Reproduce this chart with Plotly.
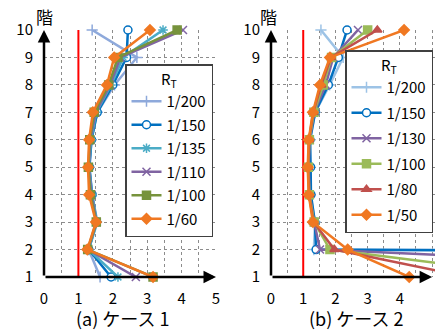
import plotly.graph_objects as go

floors = [1, 2, 3, 4, 5, 6, 7, 8, 9, 10]

# Case 1
names1 = ["1/200", "1/150", "1/135", "1/110", "1/100", "1/60"]
c1_200 = [1.63, 1.30, 1.52, 1.38, 1.32, 1.38, 1.55, 2.05, 2.70, 1.40]
c1_150 = [1.95, 1.30, 1.53, 1.40, 1.32, 1.38, 1.55, 2.00, 2.40, 2.44]
c1_135 = [2.15, 1.30, 1.55, 1.40, 1.31, 1.37, 1.52, 1.95, 2.30, 3.46]
c1_110 = [2.67, 1.28, 1.53, 1.38, 1.30, 1.35, 1.50, 1.92, 2.22, 4.04]
c1_100 = [3.17, 1.27, 1.52, 1.35, 1.29, 1.33, 1.46, 1.88, 2.15, 3.87]
c1_60 = [3.17, 1.26, 1.51, 1.31, 1.28, 1.31, 1.42, 1.83, 2.04, 3.08]

# Case 2
names2 = ["1/200", "1/150", "1/130", "1/100", "1/80", "1/50"]
c2_200 = [400.0, 1.33, 1.37, 1.22, 1.20, 1.22, 1.37, 1.82, 2.24, 1.55]
c2_150 = [150.0, 1.40, 1.36, 1.24, 1.23, 1.21, 1.37, 1.78, 2.09, 2.36]
c2_130 = [20.4, 1.52, 1.34, 1.20, 1.17, 1.20, 1.34, 1.70, 1.93, 2.70]
c2_100 = [8.6, 1.83, 1.34, 1.19, 1.16, 1.19, 1.33, 1.62, 1.88, 3.00]
c2_80 = [6.1, 1.97, 1.32, 1.18, 1.15, 1.18, 1.31, 1.56, 1.86, 3.30]
c2_50 = [4.29, 2.38, 1.30, 1.17, 1.14, 1.17, 1.30, 1.52, 1.83, 4.13]

x_ticks = [0, 1, 2, 3, 4, 5]
y_ticks = floors
limit_x = 1
y_title = "階"
caption1 = "(a) ケース 1"
caption2 = "(b) ケース 2"

FONT = "Noto Sans CJK JP"
LFONT = "Liberation Sans Narrow, Noto Sans CJK JP"
W, H = 435, 331

styles1 = [
    dict(color="#8EA9DB", symbol="cross-thin-open", fill="#8EA9DB"),
    dict(color="#0070C0", symbol="circle", fill="white"),
    dict(color="#4BACC6", symbol="asterisk-open", fill="#4BACC6"),
    dict(color="#8064A2", symbol="x-thin-open", fill="#8064A2"),
    dict(color="#77933C", symbol="square", fill="#77933C"),
    dict(color="#F07822", symbol="diamond", fill="#F07822"),
]
styles2 = [
    dict(color="#9DC3E6", symbol="cross-thin-open", fill="#9DC3E6"),
    dict(color="#0070C0", symbol="circle", fill="white"),
    dict(color="#8064A2", symbol="x-thin-open", fill="#8064A2"),
    dict(color="#9BBB59", symbol="square", fill="#9BBB59"),
    dict(color="#C0504D", symbol="triangle-up", fill="#C0504D"),
    dict(color="#F07822", symbol="diamond", fill="#F07822"),
]

fig = go.Figure()

# red reference lines
for xa, ya in [("x", "y"), ("x2", "y2")]:
    fig.add_trace(go.Scatter(x=[limit_x, limit_x], y=[y_ticks[0], y_ticks[-1]], mode="lines",
                             line=dict(color="#FF0000", width=2), showlegend=False,
                             hoverinfo="skip", xaxis=xa, yaxis=ya))

for name, vals, st in zip(names1, [c1_200, c1_150, c1_135, c1_110, c1_100, c1_60], styles1):
    fig.add_trace(go.Scatter(
        x=vals, y=floors, name=name, mode="lines+markers", legendgroup="a" + name,
        line=dict(color=st["color"], width=2.5),
        marker=dict(symbol=st["symbol"], size=8, color=st["fill"],
                    line=dict(color=st["color"], width=1.5)),
        cliponaxis=False, xaxis="x", yaxis="y", legend="legend"))

for name, vals, st in zip(names2, [c2_200, c2_150, c2_130, c2_100, c2_80, c2_50], styles2):
    fig.add_trace(go.Scatter(
        x=vals, y=floors, name=name, mode="lines+markers", legendgroup="b" + name,
        line=dict(color=st["color"], width=2.5),
        marker=dict(symbol=st["symbol"], size=8, color=st["fill"],
                    line=dict(color=st["color"], width=1.5)),
        cliponaxis=False, xaxis="x2", yaxis="y2", legend="legend2"))

ydom = [1 - 277 / H, 1 - 30 / H]
grid = dict(showgrid=True, gridcolor="#8c8c8c", griddash="dot", gridwidth=1)
common_x = dict(tickvals=x_ticks, zeroline=False, showline=False, ticks="", automargin=False,
                tickfont=dict(family=FONT, size=15, color="black"), ticklabelstandoff=11,
                minor=dict(dtick=0.5, showgrid=True, gridcolor="#8c8c8c", griddash="dot", gridwidth=1),
                **grid)
common_y = dict(tickvals=y_ticks, range=[1, 10], zeroline=False, showline=False, ticks="",
                automargin=False,
                tickfont=dict(family=FONT, size=15, color="black"), ticklabelstandoff=10,
                domain=ydom, **grid)

legend_common = dict(bgcolor="white", bordercolor="#404040", borderwidth=1.5,
                     xanchor="right", yanchor="top",
                     font=dict(family=LFONT, size=15, color="black"),
                     itemwidth=30)

fig.update_layout(
    width=W, height=H, margin=dict(l=0, r=0, t=0, b=0, autoexpand=False),
    paper_bgcolor="white", plot_bgcolor="white",
    xaxis=dict(domain=[44 / W, 216 / W], range=[0, 5], anchor="y", **common_x),
    yaxis=dict(anchor="x", **common_y),
    xaxis2=dict(domain=[271 / W, 1.0], range=[0, 5.09], anchor="y2", **common_x),
    yaxis2=dict(anchor="x2", **common_y),
    legend=dict(x=213 / W, y=1 - 64 / H, tracegroupgap=1,
                title=dict(text="R<sub>T</sub>", side="top center", font=dict(family=FONT, size=15)),
                **legend_common),
    legend2=dict(x=433 / W, y=1 - 50 / H, tracegroupgap=3,
                 title=dict(text="R<sub>T</sub>", side="top center", font=dict(family=FONT, size=15)),
                 **legend_common),
    showlegend=True,
)

ann = []
for xr, yr, xmax in [("x", "y", 5), ("x2", "y2", 5)]:
    ann.append(dict(x=0, y=10, ax=0, ay=1, xref=xr, yref=yr, axref=xr, ayref=yr, text="",
                    showarrow=True, arrowhead=2, arrowsize=1, arrowwidth=2.5, arrowcolor="black",
                    standoff=0, startstandoff=0))
    ann.append(dict(x=xmax, y=1, ax=0, ay=1, xref=xr, yref=yr, axref=xr, ayref=yr, text="",
                    showarrow=True, arrowhead=2, arrowsize=1, arrowwidth=2.5, arrowcolor="black",
                    standoff=0, startstandoff=0))
ann.append(dict(x=44 / W, y=1 - 16 / H, xref="paper", yref="paper", text=y_title, showarrow=False,
                font=dict(family=FONT, size=17, color="black"), xanchor="center", yanchor="middle"))
ann.append(dict(x=268 / W, y=1 - 16 / H, xref="paper", yref="paper", text=y_title, showarrow=False,
                font=dict(family=FONT, size=17, color="black"), xanchor="center", yanchor="middle"))
ann.append(dict(x=122 / W, y=1 - 318 / H, xref="paper", yref="paper", text=caption1, showarrow=False,
                font=dict(family=FONT, size=18, color="black"), xanchor="center", yanchor="middle"))
ann.append(dict(x=356 / W, y=1 - 318 / H, xref="paper", yref="paper", text=caption2, showarrow=False,
                font=dict(family=FONT, size=18, color="black"), xanchor="center", yanchor="middle"))
fig.update_layout(annotations=ann)

fig.write_html("out.html")
